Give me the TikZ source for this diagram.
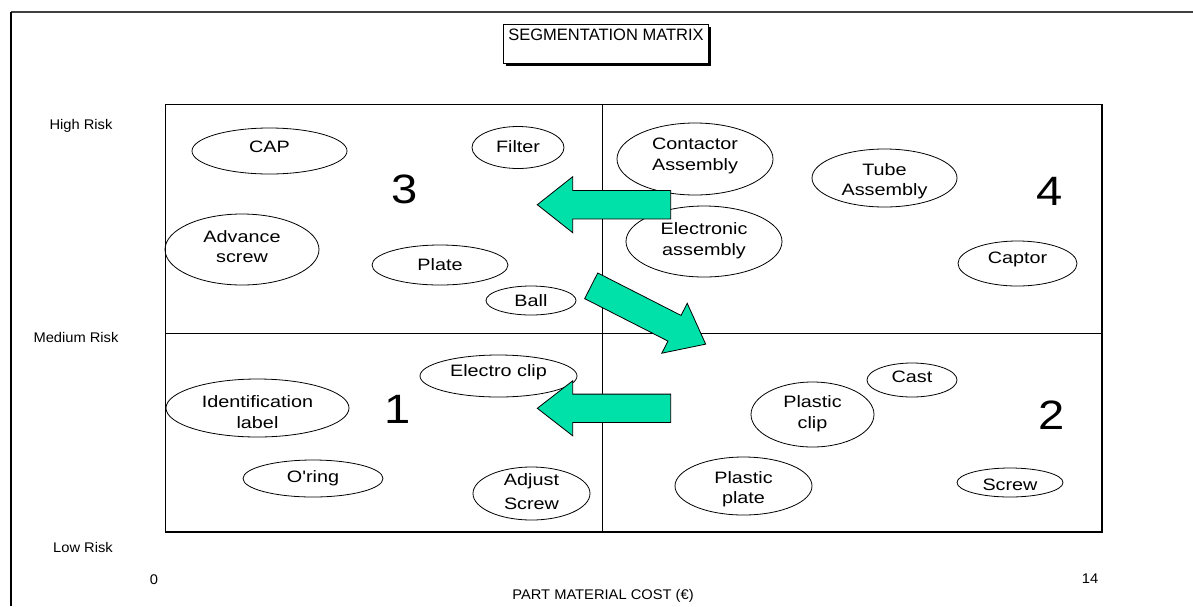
\documentclass[tikz,border=0pt]{standalone}
\usepackage{fontspec}
\setmainfont{Liberation Sans}
\newfontfamily\lblfont[FakeStretch=1.2]{Liberation Sans}
\newfontfamily\axfont[FakeStretch=1.05]{Liberation Sans}
\newfontfamily\numfont[FakeStretch=1.15]{Liberation Sans}
\usetikzlibrary{shapes.geometric}
\definecolor{arrowgreen}{RGB}{0,225,170}
\definecolor{framegray}{RGB}{64,64,64}
\begin{document}
\begin{tikzpicture}[x=1pt,y=-1pt,
  part/.style={draw=black, line width=0.8pt, ellipse, inner sep=0pt},
  lbl/.style={font=\lblfont\fontsize{16.5}{20.5}\selectfont, align=center, inner sep=0pt},
  quad/.style={font=\numfont\fontsize{41}{41}\selectfont, inner sep=0pt},
  axislbl/.style={font=\axfont\fontsize{14}{16}\selectfont, inner sep=0pt},
  bigarrow/.style={fill=arrowgreen, draw=black, line width=0.8pt, line join=miter},
  gridline/.style={draw=black, line width=0.9pt},
]
\useasboundingbox (0,0) rectangle (1193,606);
% outer frame
\draw[framegray, line width=2pt] (11,12) -- (1193,12);
\draw[black, line width=1.4pt] (11,12) -- (11,606);

% title
\fill[black] (505.5,26.5) rectangle (710.5,65.5);
\node[draw=black, fill=white, line width=0.8pt, minimum width=205, minimum height=39, inner sep=0pt] (titlebox) at (605.5,43.5) {};
\node[font=\fontsize{16.5}{18}\selectfont, inner sep=0pt] (title) at (606,35) {SEGMENTATION MATRIX};

% matrix
\coordinate (tl) at (165,104);
\coordinate (br) at (1102,532);
\draw[black, line width=1.6pt] (1102,104) -- (1102,532) -- (165,532);
\draw[gridline] (tl) rectangle (br);
\draw[gridline] (602,104) -- (602,532);
\draw[gridline] (165,333) -- (1102,333);

% axis labels
\node[axislbl] (high) at (81,126) {High Risk};
\node[axislbl] (med) at (76,337) {Medium Risk};
\node[axislbl] (low) at (83,547) {Low Risk};
\node[axislbl] (zero) at (154,580) {0};
\node[axislbl] (fourteen) at (1090,579) {14};
\node[axislbl] (xlab) at (603,596) {PART MATERIAL COST (€)};

% quadrant numbers
\node[quad] (q3) at (405,189) {3};
\node[quad] (q4) at (1050,191) {4};
\node[quad] (q1) at (398,409) {1};
\node[quad] (q2) at (1052,415) {2};

% parts
\node[part, minimum width=155, minimum height=46] (cap) at (269.5,151) {};
\node[lbl] at ([yshift=4]cap.center) {CAP};
\node[part, minimum width=92, minimum height=42] (filter) at (518,147.5) {};
\node[lbl] at ([yshift=1]filter.center) {Filter};
\node[part, minimum width=154, minimum height=71] (adv) at (242,249.5) {};
\node[lbl] at ([yshift=3]adv.center) {Advance\\screw};
\node[part, minimum width=136, minimum height=40] (plate) at (440,265) {};
\node[lbl] at ([yshift=0]plate.center) {Plate};
\node[part, minimum width=90, minimum height=29] (ball) at (531,300.5) {};
\node[lbl] at ([yshift=0]ball.center) {Ball};
\node[part, minimum width=156, minimum height=72] (cont) at (695,159) {};
\node[lbl] at ([yshift=3]cont.center) {Contactor\\Assembly};
\node[part, minimum width=156, minimum height=71] (elec) at (704,241.5) {};
\node[lbl] at ([yshift=1]elec.center) {Electronic\\assembly};
\node[part, minimum width=145, minimum height=58] (tube) at (884.5,178) {};
\node[lbl] at ([yshift=-3]tube.center) {Tube\\Assembly};
\node[part, minimum width=119, minimum height=45] (captor) at (1017.5,263.5) {};
\node[lbl] at ([yshift=4]captor.center) {Captor};
\node[part, minimum width=157, minimum height=42] (eclip) at (498.5,376) {};
\node[lbl] at ([yshift=4]eclip.center) {Electro clip};
\node[part, minimum width=183, minimum height=58] (ident) at (257.5,408) {};
\node[lbl] at ([yshift=-4]ident.center) {Identification\\label};
\node[part, minimum width=140, minimum height=37] (oring) at (313,478.5) {};
\node[lbl] at ([yshift=0]oring.center) {O'ring};
\node[part, minimum width=117, minimum height=53] (adj) at (531.5,493.5) {};
\node[lbl, font=\lblfont\fontsize{16.5}{24}\selectfont] at ([yshift=2]adj.center) {Adjust\\Screw};
\node[part, minimum width=90, minimum height=34] (cast) at (912,380) {};
\node[lbl] at ([yshift=3]cast.center) {Cast};
\node[part, minimum width=123, minimum height=65] (pclip) at (812.5,414.5) {};
\node[lbl] at ([yshift=1]pclip.center) {Plastic\\clip};
\node[part, minimum width=137, minimum height=58] (pplate) at (743.5,486) {};
\node[lbl] at ([yshift=-3]pplate.center) {Plastic\\plate};
\node[part, minimum width=106, minimum height=29] (screw) at (1010,482.5) {};
\node[lbl] at ([yshift=-2]screw.center) {Screw};

% arrows
\draw[bigarrow, shift={(670.7,204.7)}, rotate=180]
  (0,-14.2) -- (98,-14.2) -- (98,-28) -- (133.4,0) -- (98,28) -- (98,14.2) -- (0,14.2) -- cycle;
\draw[bigarrow, shift={(670.7,408.3)}, rotate=180]
  (0,-14.2) -- (98,-14.2) -- (98,-27.5) -- (133.4,0) -- (98,27.5) -- (98,14.2) -- (0,14.2) -- cycle;
\draw[bigarrow, shift={(591.2,285.8)}, rotate=-27]
  (0,-14.4) -- (93.5,-14.4) -- (93.5,-28) -- (128.5,0) -- (93.5,28) -- (93.5,14.4) -- (0,14.4) -- cycle;
\end{tikzpicture}
\end{document}
